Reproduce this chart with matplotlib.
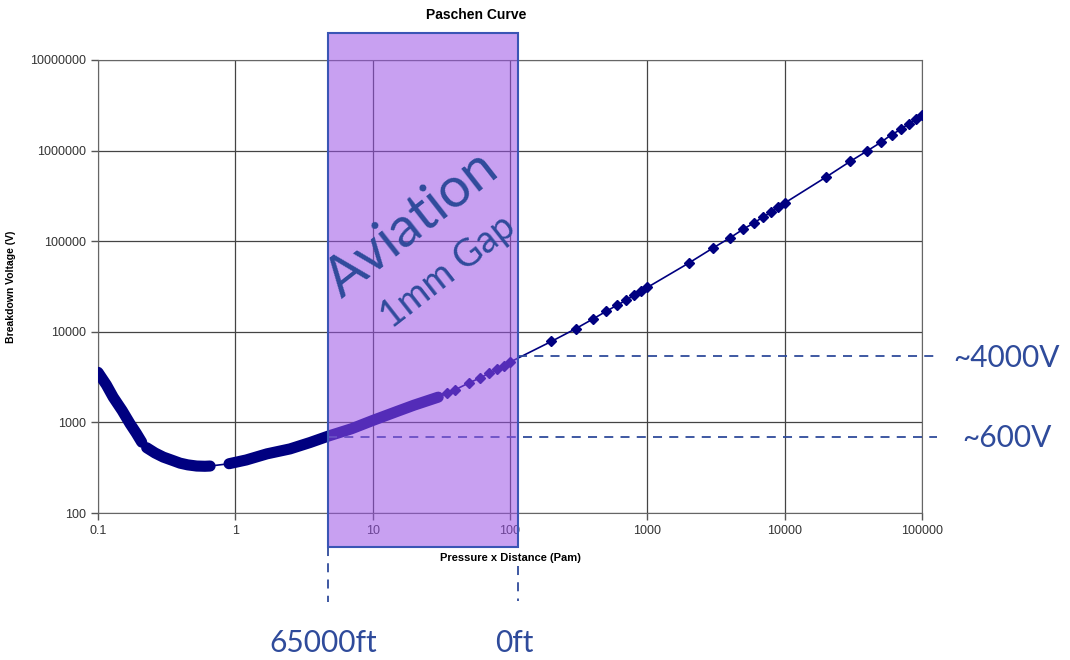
import matplotlib.pyplot as plt
from matplotlib.patches import Rectangle

# data (pd in Pa*m, breakdown voltage in V)
pd_seg1 = [0.1, 0.115, 0.129, 0.15, 0.171, 0.19, 0.208]
v_seg1 = [3570, 2600, 1900, 1350, 968, 760, 606]

pd_seg2 = [0.226, 0.26, 0.299, 0.35, 0.396, 0.45, 0.523, 0.6, 0.655]
v_seg2 = [526, 460, 414, 380, 355, 340, 330, 328, 330]

pd_seg3 = [0.9, 1.2, 1.7, 2.5, 3.5, 4.8, 7, 10, 15, 20, 30]
v_seg3 = [350, 385, 450, 510, 600, 710, 850, 1050, 1320, 1550, 1900]

pd_pts = [35, 40, 50, 60, 70, 80, 90, 100,
          200, 300, 400, 500, 600, 700, 800, 900, 1000,
          2000, 3000, 4000, 5000, 6000, 7000, 8000, 9000, 10000,
          20000, 30000, 40000, 50000, 60000, 70000, 80000, 90000, 100000]
v_pts = [2100, 2300, 2720, 3080, 3470, 3850, 4180, 4630,
         7830, 10800, 13800, 16800, 19600, 22300, 25400, 27900, 30900,
         57300, 84000, 109000, 136000, 160000, 186000, 210000, 236000, 264000,
         510000, 760000, 995000, 1230000, 1500000, 1710000, 1980000, 2210000, 2460000]

xticks = [0.1, 1, 10, 100, 1000, 10000, 100000]
xlabels = ["0.1", "1", "10", "100", "1000", "10000", "100000"]
yticks = [100, 1000, 10000, 100000, 1000000, 10000000]
ylabels = ["100", "1000", "10000", "100000", "1000000", "10000000"]

navy = "#000080"
blue = "#2f4b9b"

fig = plt.figure(figsize=(10.7, 6.6), dpi=100)
ax = fig.add_axes([0.0916, 0.2227, 0.7701, 0.6864])
ax.set_xscale("log")
ax.set_yscale("log")
ax.set_xlim(0.1, 100000)
ax.set_ylim(100, 10000000)

# thin line through everything
all_x = pd_seg1 + pd_seg2 + pd_seg3 + pd_pts
all_y = v_seg1 + v_seg2 + v_seg3 + v_pts
ax.plot(all_x, all_y, color=navy, lw=1.2, zorder=3)
# dense parts look like a thick band
for xs, ys in [(pd_seg1, v_seg1), (pd_seg2, v_seg2), (pd_seg3, v_seg3)]:
    ax.plot(xs, ys, color=navy, lw=8, solid_capstyle="round", zorder=3)
ax.plot(pd_pts, v_pts, color=navy, lw=0, marker="D", ms=5.5, zorder=3)

ax.set_xticks(xticks)
ax.set_xticklabels(xlabels)
ax.set_yticks(yticks)
ax.set_yticklabels(ylabels)
ax.minorticks_off()
ax.tick_params(labelsize=9, labelcolor="#333333", color="#555555", length=5, width=1)
for lab in ax.get_xticklabels() + ax.get_yticklabels():
    lab.set_family("Liberation Sans")
ax.grid(True, color="#444444", lw=0.9)
for s in ax.spines.values():
    s.set_color("#666666")

ax.set_xlabel("Pressure x Distance (Pam)", fontsize=8, fontweight="bold",
              family="Liberation Sans", labelpad=12)
ax.set_ylabel("Breakdown Voltage (V)", fontsize=7.5, fontweight="bold",
              family="Liberation Sans", labelpad=10)
fig.text(0.445, 0.978, "Paschen Curve", ha="center", va="center", fontsize=10,
         fontweight="bold", family="Liberation Sans")

# aviation window
rect = Rectangle((4.73, 42.2), 114.6 - 4.73, 1.986e7 - 42.2, facecolor=(155/255, 82/255, 231/255),
                 alpha=0.55, edgecolor="none", clip_on=False, zorder=5)
ax.add_patch(rect)
edge = Rectangle((4.73, 42.2), 114.6 - 4.73, 1.986e7 - 42.2, facecolor="none",
                 edgecolor="#3a55b5", lw=1.5, clip_on=False, zorder=6)
ax.add_patch(edge)

dash = (0, (5, 4))
ax.plot([114.6, 128500], [5350, 5350], color=blue, lw=1.3, ls=dash, clip_on=False, zorder=4)
ax.plot([4.73, 128500], [683, 683], color=blue, lw=1.3, ls=dash, clip_on=False, zorder=4)
ax.plot([4.73, 4.73], [42.2, 10.4], color=blue, lw=1.3, ls=dash, clip_on=False, zorder=4)
ax.plot([114.6, 114.6], [26, 10.8], color=blue, lw=1.3, ls=dash, clip_on=False, zorder=4)

fig.text(412 / 1070, 1 - 224 / 660, "Aviation", rotation=38, ha="center", va="center",
         fontsize=40, color=blue, family="Lato")
fig.text(448 / 1070, 1 - 272 / 660, "1mm Gap", rotation=38, ha="center", va="center",
         fontsize=27, color=blue, family="Lato")

fig.text(0.941, 0.4576, "~4000V", ha="center", va="center", fontsize=21.5, color=blue, family="Lato")
fig.text(0.941, 0.3364, "~600V", ha="center", va="center", fontsize=21.5, color=blue, family="Lato")
fig.text(0.302, 0.0258, "65000ft", ha="center", va="center", fontsize=21.5, color=blue, family="Lato")
fig.text(0.481, 0.0258, "0ft", ha="center", va="center", fontsize=21.5, color=blue, family="Lato")

fig.savefig("out.png", dpi=100)
